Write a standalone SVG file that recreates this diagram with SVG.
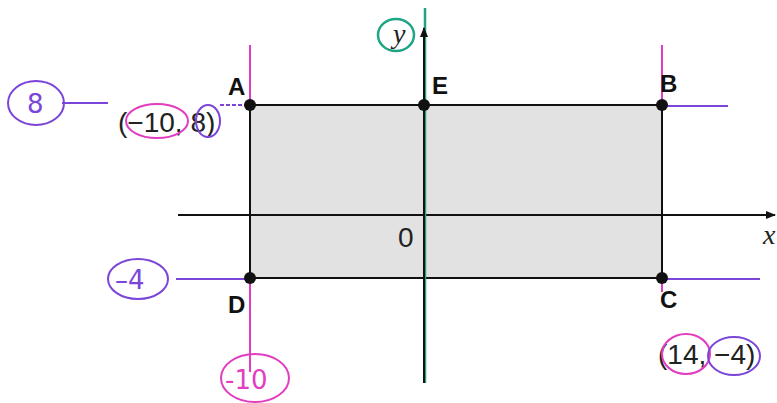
<svg xmlns="http://www.w3.org/2000/svg" width="777" height="403" viewBox="0 0 777 403">
<style>
.lbl{font-family:"Liberation Sans",Arial,sans-serif;font-weight:bold;font-size:24px;fill:#111}
.num{font-family:"Liberation Sans",Arial,sans-serif;font-size:28px;fill:#222}
.hand{font-family:"DejaVu Sans",sans-serif;font-size:26px}
.pur{stroke:#7a45d8;fill:none;stroke-width:2}
.mag{stroke:#e23cc0;fill:none;stroke-width:2}
.teal{stroke:#1fa585;fill:none;stroke-width:2.5}
.ax{stroke:#111;stroke-width:2;fill:none}
.dot{fill:#111}
</style>
<defs>
<marker id="ah" viewBox="0 0 10 10" refX="9" refY="5" markerWidth="10" markerHeight="10" markerUnits="userSpaceOnUse" orient="auto"><path d="M0,1 L10,5 L0,9 Z" fill="#111"/></marker>
</defs>
<rect width="777" height="403" fill="#fff"/>
<g id="region"><rect x="250" y="105" width="412" height="173" fill="#e2e2e2"/></g>
<g id="connectors">
<line class="mag" x1="250" y1="45" x2="250" y2="372" stroke-width="2.5"/>
<line class="mag" x1="662" y1="45" x2="662" y2="292" stroke-width="2.5"/>
<line class="pur" x1="62" y1="103" x2="108" y2="103"/>
<line class="pur" x1="220" y1="105" x2="250" y2="105" stroke-dasharray="4 2"/>
<line class="pur" x1="662" y1="106" x2="728" y2="106" stroke-width="2.5"/>
<line class="pur" x1="176" y1="279" x2="250" y2="279"/>
<line class="pur" x1="662" y1="279" x2="760" y2="279" stroke-width="1.5"/>
<path class="ax" d="M250,105 H662 V278 H250 Z"/>
<line class="ax" x1="178" y1="215" x2="775" y2="215" marker-end="url(#ah)"/>
<line class="teal" x1="425" y1="8" x2="425" y2="383"/>
<line class="ax" x1="424" y1="383" x2="424" y2="28" marker-end="url(#ah)"/>
</g>
<g id="A"><circle class="dot" cx="250" cy="105" r="6"/><text class="lbl" x="228" y="95">A</text></g>
<g id="E"><circle class="dot" cx="424" cy="105" r="6"/><text class="lbl" x="432" y="94">E</text></g>
<g id="B"><circle class="dot" cx="662" cy="105" r="6"/><text class="lbl" x="660" y="92">B</text></g>
<g id="C"><circle class="dot" cx="662" cy="278" r="6"/><text class="lbl" x="660" y="308">C</text></g>
<g id="D"><circle class="dot" cx="250" cy="278" r="6"/><text class="lbl" x="228" y="313">D</text></g>
<g id="labels">
<text class="num" x="398" y="247" font-size="26">0</text>
<text x="763" y="244" font-family="Liberation Serif,serif" font-style="italic" font-size="28" fill="#222">x</text>
<text x="393" y="43" font-family="Liberation Serif,serif" font-style="italic" font-size="28" fill="#222">y</text>
<ellipse class="teal" cx="396" cy="35" rx="18" ry="16"/>
<text class="num" x="118" y="132">(−10, 8)</text>
<ellipse class="mag" cx="157" cy="121" rx="31" ry="17"/>
<ellipse class="pur" cx="208" cy="121" rx="12" ry="16"/>
<text class="num" x="658" y="364">(14, −4)</text>
<ellipse class="mag" cx="686" cy="354" rx="24" ry="20"/>
<ellipse class="pur" cx="734" cy="356" rx="26" ry="19"/>
<ellipse class="pur" cx="36" cy="103" rx="28" ry="22"/>
<text class="hand" x="27" y="113" fill="#7a45d8">8</text>
<ellipse class="pur" cx="138" cy="279" rx="30" ry="20"/>
<text class="hand" x="115" y="289" fill="#7a45d8">–4</text>
<ellipse class="mag" cx="255" cy="378" rx="34" ry="24"/>
<text class="hand" x="225" y="389" fill="#e23cc0" font-size="28">-10</text>
</g>
</svg>
